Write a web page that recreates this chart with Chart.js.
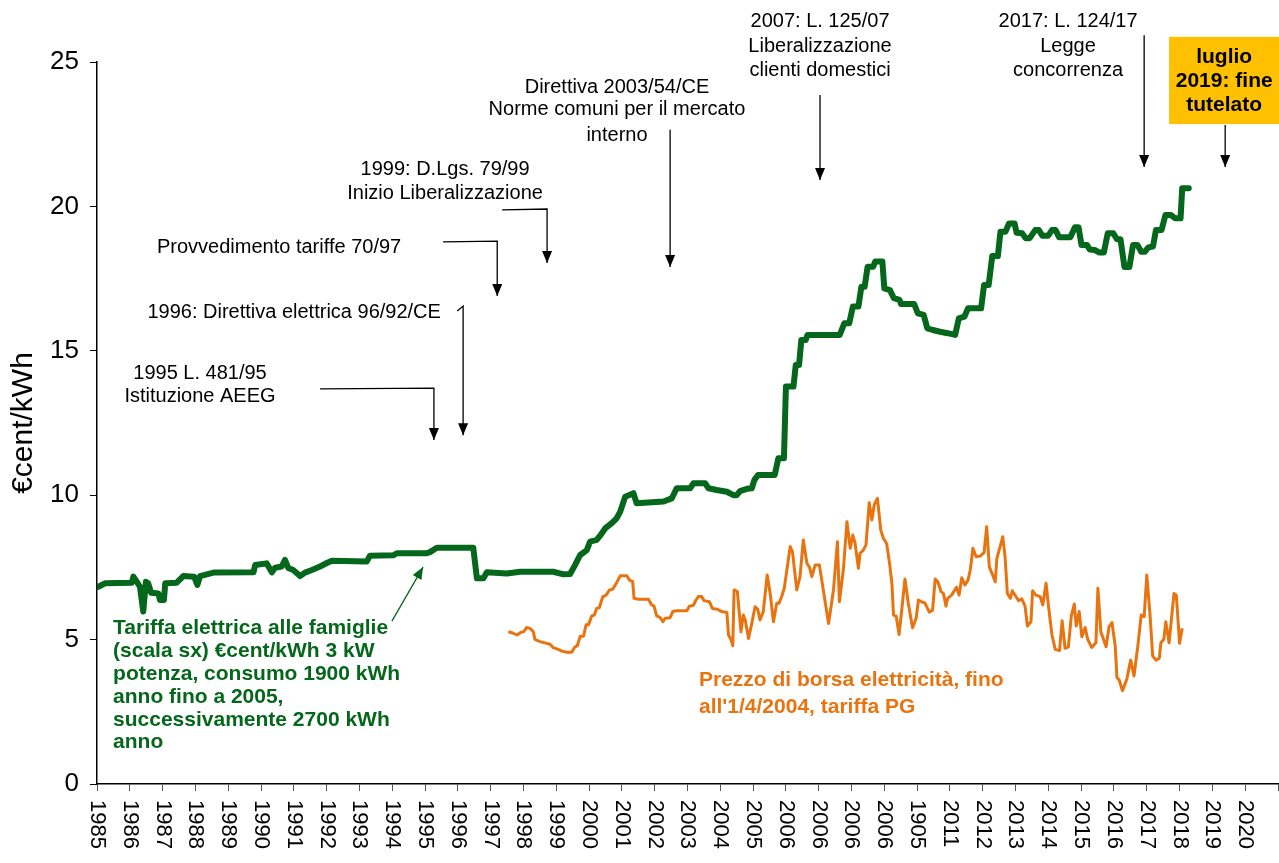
<!DOCTYPE html>
<html>
<head>
<meta charset="utf-8">
<script src="https://cdn.jsdelivr.net/npm/chart.js@4.4.1/dist/chart.umd.min.js"></script>
<style>
  html, body { margin: 0; padding: 0; background: #fff; }
  #wrap { width: 1279px; height: 863px; position: relative; }
</style>
</head>
<body>
<div id="wrap"><canvas id="chart"></canvas></div>
<script>
const xTickLabels = ["1985","1986","1987","1988","1989","1990","1991","1992","1993","1994","1995","1996","1997","1998","1999","2000","2001","2002","2003","2004","2005","2006","2006","2006","2006","1905","2011","2012","2013","2014","2015","2016","2017","2018","2019","2020"];
const yTicks = [0, 5, 10, 15, 20, 25];

// tariffa elettrica famiglie (green)
const tariffYears = [1985.04,1985.24,1986.06,1986.11,1986.21,1986.31,1986.41,1986.49,1986.56,1986.65,1986.87,1986.92,1987.04,1987.08,1987.43,1987.63,1987.96,1988.06,1988.14,1988.55,1989.77,1989.82,1990.17,1990.33,1990.43,1990.63,1990.73,1990.83,1990.98,1991.19,1991.34,1991.55,1991.80,1992.02,1992.16,1993.22,1993.32,1994.03,1994.14,1995.05,1995.15,1995.36,1996.47,1996.58,1996.78,1996.88,1997.49,1997.90,1998.91,1999.22,1999.42,1999.57,1999.73,1999.93,2000.03,2000.23,2000.33,2000.49,2000.69,2000.84,2000.95,2001.10,2001.35,2001.45,2002.27,2002.52,2002.67,2003.08,2003.18,2003.54,2003.64,2003.89,2004.20,2004.40,2004.50,2004.60,2004.81,2004.96,2005.04,2005.15,2005.66,2005.77,2005.94,2006.00,2006.23,2006.30,2006.40,2006.47,2006.60,2006.66,2007.64,2007.78,2007.93,2008.04,2008.21,2008.30,2008.40,2008.49,2008.66,2008.72,2008.94,2009.00,2009.17,2009.29,2009.46,2009.51,2009.91,2010.02,2010.20,2010.31,2010.48,2010.70,2010.93,2011.16,2011.27,2011.44,2011.55,2011.95,2012.04,2012.18,2012.29,2012.46,2012.54,2012.69,2012.80,2012.97,2013.03,2013.20,2013.31,2013.43,2013.60,2013.71,2013.82,2013.99,2014.11,2014.22,2014.33,2014.67,2014.81,2014.92,2015.01,2015.18,2015.26,2015.41,2015.56,2015.69,2015.81,2015.98,2016.09,2016.20,2016.32,2016.47,2016.58,2016.72,2016.83,2016.94,2017.05,2017.19,2017.28,2017.45,2017.57,2017.74,2017.86,2018.03,2018.08,2018.28];
const tariffValues = [6.83,6.95,6.97,7.18,7.01,6.83,5.97,7.00,6.95,6.62,6.60,6.37,6.37,6.95,6.97,7.20,7.18,6.89,7.20,7.32,7.33,7.58,7.64,7.33,7.49,7.53,7.76,7.48,7.41,7.20,7.32,7.41,7.53,7.66,7.73,7.70,7.90,7.92,7.99,7.99,8.03,8.18,8.18,7.12,7.12,7.33,7.29,7.35,7.35,7.26,7.27,7.58,7.93,8.10,8.39,8.45,8.59,8.85,9.03,9.20,9.43,9.95,10.07,9.72,9.78,9.89,10.24,10.24,10.41,10.41,10.24,10.18,10.12,10.00,10.00,10.14,10.22,10.24,10.53,10.70,10.70,11.28,11.28,13.76,13.76,14.51,14.51,15.37,15.37,15.55,15.55,15.95,15.95,16.53,16.53,17.22,17.22,17.91,17.91,18.09,18.09,17.16,17.10,16.82,16.76,16.62,16.62,16.30,16.24,15.78,15.72,15.66,15.61,15.55,16.12,16.18,16.47,16.47,17.28,17.28,18.28,18.28,19.12,19.12,19.41,19.41,19.09,19.07,18.90,18.90,19.18,19.18,18.98,18.98,19.18,19.18,18.93,18.93,19.28,19.28,18.66,18.66,18.51,18.49,18.40,18.40,19.07,19.07,18.86,18.86,17.90,17.90,18.66,18.66,18.43,18.43,18.58,18.61,19.18,19.18,19.70,19.70,19.59,19.59,20.63,20.63];

// prezzo di borsa / tariffa PG (orange)
const pgYears = [1997.54,1997.69,1997.80,1997.90,1998.00,1998.10,1998.20,1998.30,1998.35,1998.50,1998.71,1998.81,1998.91,1999.06,1999.17,1999.32,1999.47,1999.57,1999.64,1999.73,1999.83,1999.91,1999.98,2000.08,2000.16,2000.23,2000.31,2000.42,2000.52,2000.62,2000.72,2000.82,2000.95,2001.15,2001.23,2001.33,2001.37,2001.50,2001.81,2001.91,2001.98,2002.06,2002.16,2002.25,2002.32,2002.47,2002.55,2002.67,2002.98,2003.06,2003.18,2003.26,2003.33,2003.43,2003.50,2003.67,2003.76,2003.91,2004.04,2004.20,2004.25,2004.32,2004.38,2004.42,2004.52,2004.63,2004.70,2004.76,2004.86,2004.96,2005.06,2005.14,2005.21,2005.31,2005.43,2005.52,2005.62,2005.72,2005.79,2005.87,2005.95,2006.13,2006.20,2006.33,2006.43,2006.53,2006.64,2006.72,2006.79,2006.89,2007.02,2007.14,2007.30,2007.45,2007.57,2007.63,2007.75,2007.86,2007.96,2008.04,2008.11,2008.21,2008.26,2008.36,2008.44,2008.54,2008.62,2008.69,2008.79,2008.89,2008.97,2009.07,2009.16,2009.23,2009.28,2009.36,2009.45,2009.53,2009.63,2009.73,2009.86,2009.97,2010.04,2010.14,2010.24,2010.37,2010.47,2010.55,2010.63,2010.73,2010.80,2010.88,2010.93,2011.05,2011.20,2011.28,2011.36,2011.46,2011.55,2011.62,2011.70,2011.80,2011.92,2012.04,2012.12,2012.20,2012.30,2012.38,2012.43,2012.53,2012.61,2012.68,2012.75,2012.84,2012.90,2013.01,2013.09,2013.19,2013.29,2013.36,2013.47,2013.52,2013.62,2013.75,2013.83,2013.93,2014.00,2014.11,2014.21,2014.34,2014.42,2014.51,2014.61,2014.70,2014.79,2014.85,2014.94,2015.02,2015.12,2015.20,2015.32,2015.45,2015.51,2015.60,2015.76,2015.85,2015.94,2016.04,2016.09,2016.16,2016.26,2016.39,2016.51,2016.61,2016.73,2016.83,2016.92,2017.00,2017.10,2017.18,2017.28,2017.38,2017.43,2017.52,2017.58,2017.68,2017.83,2017.90,2018.00,2018.08];
const pgValues = [5.27,5.22,5.16,5.24,5.27,5.42,5.39,5.27,5.01,4.93,4.87,4.84,4.72,4.66,4.60,4.56,4.56,4.75,4.78,5.12,5.12,5.51,5.51,5.82,5.85,6.08,6.10,6.49,6.54,6.72,6.74,6.93,7.21,7.21,7.06,7.01,6.43,6.40,6.40,6.20,6.16,5.82,5.77,5.62,5.74,5.76,5.97,6.00,6.00,6.16,6.19,6.37,6.49,6.49,6.35,6.31,6.08,6.05,5.97,5.94,5.16,5.01,4.79,6.72,6.66,5.27,5.85,5.68,5.04,5.56,6.14,6.05,5.68,5.97,7.24,6.60,5.62,6.26,6.26,6.49,6.78,8.22,8.04,6.72,7.18,8.45,7.64,7.50,7.18,7.58,7.58,6.72,5.56,6.72,8.39,6.31,7.41,9.08,8.16,8.62,8.33,7.47,7.99,8.10,8.28,9.74,9.14,9.66,9.89,8.80,8.51,8.33,7.64,6.95,5.85,5.82,5.18,6.02,7.10,6.26,5.41,5.74,6.37,6.31,6.26,5.95,6.02,7.10,7.00,6.66,6.60,6.16,6.43,6.54,6.81,6.54,7.14,6.89,7.06,7.41,8.16,7.87,7.89,8.01,8.91,7.52,7.24,7.00,7.81,8.22,8.56,7.87,6.60,6.43,6.69,6.49,6.35,6.41,6.16,5.47,5.62,6.69,6.54,6.49,6.20,6.95,6.20,5.16,4.66,4.62,5.65,4.70,4.75,5.82,6.23,5.47,5.97,5.10,5.42,5.01,4.73,4.89,6.78,5.27,4.75,5.45,5.59,4.75,3.69,3.60,3.23,3.63,4.29,3.74,4.81,5.85,5.79,7.24,5.85,4.43,4.29,4.35,4.89,5.01,5.62,4.89,6.60,6.54,4.87,5.39];

const GREEN = '#05671b';
const ORANGE = '#e8730f';
const FONT = '"Liberation Sans", Arial, sans-serif';

// annotations, placed in data units (year, €cent/kWh)
const notes = [
  { lines: ["1995 L. 481/95", "Istituzione AEEG"], x: 1988.14, y: [14.23, 13.43],
    arrow: [[1991.80, 13.68], [1995.27, 13.71], [1995.27, 11.91]] },
  { lines: ["1996: Direttiva elettrica 96/92/CE"], x: 1991.01, y: [16.31],
    arrow: [[1995.98, 16.38], [1996.16, 16.55], [1996.16, 12.08]] },
  { lines: ["Provvedimento tariffe 70/97"], x: 1990.55, y: [18.59],
    arrow: [[1995.55, 18.77], [1997.20, 18.80], [1997.20, 16.90]] },
  { lines: ["1999: D.Lgs. 79/99", "Inizio Liberalizzazione"], x: 1995.61, y: [21.29, 20.43],
    arrow: [[1997.35, 19.88], [1998.72, 19.91], [1998.72, 18.04]] },
  { lines: ["Direttiva 2003/54/CE", "Norme comuni per il mercato", "interno"], x: 2000.85, y: [24.13, 23.34, 22.47],
    arrow: [[2002.47, 22.65], [2002.47, 17.90]] },
  { lines: ["2007: L. 125/07", "Liberalizzazione", "clienti domestici"], x: 2007.04, y: [26.39, 25.55, 24.72],
    arrow: [[2007.04, 23.86], [2007.04, 20.91]] },
  { lines: ["2017: L. 124/17", "Legge", "concorrenza"], x: 2014.60, y: [26.39, 25.55, 24.72],
    arrow: [[2016.92, 25.93], [2016.92, 21.36]] },
];

function drawArrow(ctx, pts, color) {
  ctx.strokeStyle = color;
  ctx.fillStyle = color;
  ctx.lineWidth = 1.3;
  ctx.beginPath();
  pts.forEach((p, i) => i ? ctx.lineTo(p[0], p[1]) : ctx.moveTo(p[0], p[1]));
  ctx.stroke();
  const [x1, y1] = pts[pts.length - 2];
  const [x2, y2] = pts[pts.length - 1];
  const a = Math.atan2(y2 - y1, x2 - x1), L = 12, W = 5;
  ctx.beginPath();
  ctx.moveTo(x2, y2);
  ctx.lineTo(x2 - L * Math.cos(a) + W * Math.sin(a), y2 - L * Math.sin(a) - W * Math.cos(a));
  ctx.lineTo(x2 - L * Math.cos(a) - W * Math.sin(a), y2 - L * Math.sin(a) + W * Math.cos(a));
  ctx.closePath();
  ctx.fill();
}

const decorations = {
  id: 'decorations',
  afterDraw(chart) {
    const ctx = chart.ctx;
    const xs = chart.scales.x, ys = chart.scales.y;
    const px = (v) => xs.getPixelForValue(v);
    const py = (v) => ys.getPixelForValue(v);
    ctx.save();

    // x tick labels, turned clockwise
    ctx.font = '22px ' + FONT;
    ctx.fillStyle = '#000';
    ctx.textAlign = 'left';
    ctx.textBaseline = 'middle';
    xTickLabels.forEach((lab, i) => {
      ctx.save();
      ctx.translate(px(1985 + i), xs.top + 16);
      ctx.rotate(Math.PI / 2);
      ctx.fillText(lab, 0, 0);
      ctx.restore();
    });

    // event notes
    ctx.textAlign = 'center';
    notes.forEach(n => {
      ctx.font = '20px ' + FONT;
      ctx.fillStyle = '#000';
      n.lines.forEach((t, i) => ctx.fillText(t, px(n.x), py(n.y[i])));
      drawArrow(ctx, n.arrow.map(p => [px(p[0]), py(p[1])]), '#000');
    });

    // box "fine tutelato"
    ctx.fillStyle = '#ffc000';
    ctx.fillRect(px(2017.68), py(25.87), px(2021.04) - px(2017.68), py(22.85) - py(25.87));
    ctx.fillStyle = '#000';
    ctx.font = 'bold 21px ' + FONT;
    [["luglio", 25.17], ["2019: fine", 24.34], ["tutelato", 23.51]].forEach(([t, v]) => ctx.fillText(t, px(2019.36), py(v)));
    drawArrow(ctx, [[px(2019.39), py(22.82)], [px(2019.39), py(21.36)]], '#000');

    // series labels
    ctx.textAlign = 'left';
    ctx.font = 'bold 21px ' + FONT;
    ctx.fillStyle = GREEN;
    const greenText = ["Tariffa elettrica alle famiglie", "(scala sx) €cent/kWh 3 kW", "potenza, consumo 1900 kWh",
      "anno fino a 2005,", "successivamente 2700 kWh", "anno"];
    const greenY = [5.40, 4.61, 3.81, 3.01, 2.22, 1.45];
    greenText.forEach((t, i) => ctx.fillText(t, px(1985.49), py(greenY[i])));
    drawArrow(ctx, [[px(1993.99), py(5.64)], [px(1994.94), py(7.51)]], GREEN);

    ctx.fillStyle = ORANGE;
    ctx.fillText("Prezzo di borsa elettricità, fino", px(2003.35), py(3.60));
    ctx.fillText("all'1/4/2004, tariffa PG", px(2003.35), py(2.67));

    ctx.restore();
  }
};

new Chart(document.getElementById('chart'), {
  type: 'line',
  data: {
    datasets: [
      {
        label: 'Tariffa elettrica alle famiglie',
        data: tariffYears.map((x, i) => ({ x: x, y: tariffValues[i] })),
        borderColor: GREEN,
        borderWidth: 6,
        pointRadius: 0,
        tension: 0,
        borderJoinStyle: 'round',
        borderCapStyle: 'round',
      },
      {
        label: 'Prezzo di borsa elettricità',
        data: pgYears.map((x, i) => ({ x: x, y: pgValues[i] })),
        borderColor: ORANGE,
        borderWidth: 3,
        pointRadius: 0,
        tension: 0,
        borderJoinStyle: 'round',
      },
    ],
  },
  options: {
    responsive: true,
    maintainAspectRatio: false,
    animation: false,
    layout: { padding: { top: 62, right: 1, left: 0, bottom: 0 } },
    plugins: { legend: { display: false }, tooltip: { enabled: false } },
    scales: {
      x: {
        type: 'linear',
        min: 1985,
        max: 2021,
        ticks: { display: false, stepSize: 1 },
        grid: { drawOnChartArea: false, drawTicks: true, tickLength: 7, color: '#555' },
        border: { color: '#000', width: 1.5 },
        afterFit: (s) => { s.height = 79; },
      },
      y: {
        min: 0,
        max: 25,
        afterBuildTicks: (s) => { s.ticks = yTicks.map(v => ({ value: v })); },
        ticks: { color: '#000', font: { size: 26, family: FONT }, padding: 11 },
        grid: { drawOnChartArea: false, tickLength: 7, color: '#000' },
        border: { color: '#000', width: 1.5 },
        title: { display: true, text: '€cent/kWh', color: '#000', font: { size: 30, family: FONT }, padding: { top: 6, bottom: 0 } },
        afterFit: (s) => { s.width = 97; },
      },
    },
  },
  plugins: [decorations],
});
</script>
</body>
</html>
